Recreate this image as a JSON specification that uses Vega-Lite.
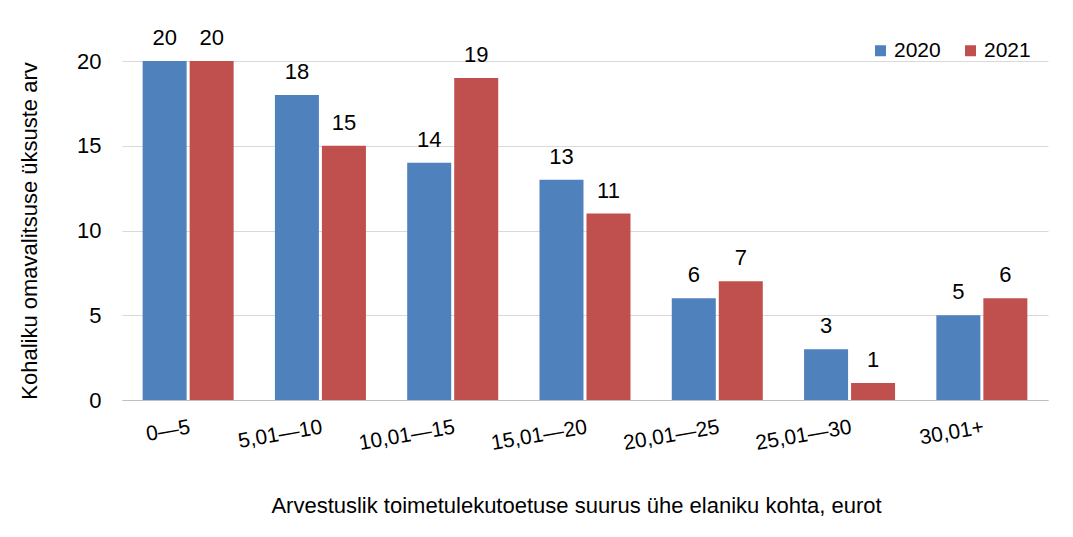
{
  "$schema": "https://vega.github.io/schema/vega-lite/v6.json",
  "width": 926,
  "height": 339,
  "autosize": {"type": "none"},
  "padding": {"left": 122, "top": 61, "right": 25, "bottom": 137},
  "background": "white",
  "config": {
    "font": "Liberation Sans",
    "view": {"stroke": null}
  },
  "data": {
    "values": [
      {"k": "0—5", "aasta": "2020", "v": 20},
      {"k": "0—5", "aasta": "2021", "v": 20},
      {"k": "5,01—10", "aasta": "2020", "v": 18},
      {"k": "5,01—10", "aasta": "2021", "v": 15},
      {"k": "10,01—15", "aasta": "2020", "v": 14},
      {"k": "10,01—15", "aasta": "2021", "v": 19},
      {"k": "15,01—20", "aasta": "2020", "v": 13},
      {"k": "15,01—20", "aasta": "2021", "v": 11},
      {"k": "20,01—25", "aasta": "2020", "v": 6},
      {"k": "20,01—25", "aasta": "2021", "v": 7},
      {"k": "25,01—30", "aasta": "2020", "v": 3},
      {"k": "25,01—30", "aasta": "2021", "v": 1},
      {"k": "30,01+", "aasta": "2020", "v": 5},
      {"k": "30,01+", "aasta": "2021", "v": 6}
    ]
  },
  "encoding": {
    "x": {
      "field": "k", "type": "nominal", "sort": null,
      "scale": {"paddingInner": 0.312, "paddingOuter": 0.156},
      "axis": {
        "title": "Arvestuslik toimetulekutoetuse suurus ühe elaniku kohta, eurot",
        "titleFontSize": 22, "titleFontWeight": "normal", "titleColor": "#000",
        "titlePadding": 42, "titleX": 454,
        "labelAngle": -10, "labelAlign": "right", "labelBaseline": "top",
        "labelFontSize": 21, "labelColor": "#000", "labelPadding": 16,
        "ticks": false, "domainColor": "#bfbfbf", "grid": false
      }
    },
    "xOffset": {"field": "aasta", "type": "nominal", "scale": {"paddingInner": 0.064}},
    "y": {
      "field": "v", "type": "quantitative",
      "scale": {"domain": [0, 20]},
      "axis": {
        "title": "Kohaliku omavalitsuse üksuste arv",
        "titleFontSize": 22, "titleFontWeight": "normal", "titleColor": "#000",
        "titlePadding": 35,
        "values": [0, 5, 10, 15, 20],
        "labelFontSize": 22, "labelColor": "#000", "labelPadding": 21,
        "ticks": false, "domain": false, "gridColor": "#d9d9d9"
      }
    }
  },
  "layer": [
    {
      "mark": {"type": "bar"},
      "encoding": {
        "color": {
          "field": "aasta", "type": "nominal",
          "scale": {"domain": ["2020", "2021"], "range": ["#4f81bd", "#c0504d"]},
          "legend": {
            "title": null, "orient": "none", "direction": "horizontal",
            "legendX": 748, "legendY": -21,
            "symbolType": "square", "symbolSize": 121, "symbolStrokeWidth": 0,
            "labelFontSize": 21, "labelColor": "#000", "columnPadding": 19, "labelOffset": 3
          }
        }
      }
    },
    {
      "mark": {"type": "text", "baseline": "middle", "dy": -23, "fontSize": 22, "color": "#000"},
      "encoding": {"text": {"field": "v", "type": "quantitative"}}
    }
  ]
}
